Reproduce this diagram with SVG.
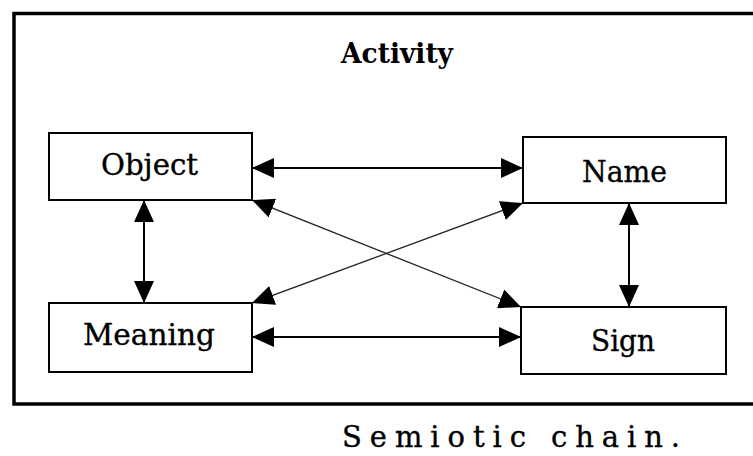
<svg xmlns="http://www.w3.org/2000/svg" width="753" height="456" viewBox="0 0 753 456">
  <style>
    .box { fill: #ffffff; stroke: #000000; stroke-width: 2; }
    .lbl { font-family: "DejaVu Serif", "Liberation Serif", serif; font-size: 29px; fill: #000000; stroke: #000000; stroke-width: 0.35; }
    .title { font-weight: bold; font-size: 27px; stroke-width: 0; }
    .link { fill: none; stroke: #000000; stroke-width: 2; marker-start: url(#tip); marker-end: url(#tip); }
    .cross { stroke-width: 1.3; stroke: #222222; }
  </style>
  <defs>
    <marker id="tip" markerUnits="userSpaceOnUse" viewBox="0 0 22 20" refX="22" refY="10" markerWidth="22" markerHeight="20" orient="auto-start-reverse">
      <path d="M0,0 L22,10 L0,20 Z" fill="#000000"/>
    </marker>
  </defs>

  <rect width="753" height="456" fill="#ffffff"/>

  <!-- outer frame, running past the right edge -->
  <rect x="14" y="13.5" width="760" height="390.5" fill="none" stroke="#000000" stroke-width="3.5"/>

  <text class="lbl title" x="341" y="63" textLength="112" lengthAdjust="spacingAndGlyphs">Activity</text>

  <g id="connectors">
    <line class="link" x1="252" y1="168" x2="523" y2="168"/>
    <line class="link" x1="252" y1="337" x2="521" y2="337"/>
    <line class="link" x1="144" y1="200" x2="144" y2="303"/>
    <line class="link" x1="629" y1="203" x2="629" y2="307"/>
    <line class="link cross" x1="252" y1="200" x2="521" y2="307"/>
    <line class="link cross" x1="523" y1="203" x2="252" y2="303"/>
  </g>

  <g id="object">
    <rect class="box" x="49" y="133" width="203" height="67"/>
    <text class="lbl" x="101" y="175" textLength="97" lengthAdjust="spacingAndGlyphs">Object</text>
  </g>

  <g id="name">
    <rect class="box" x="523" y="137" width="203" height="66"/>
    <text class="lbl" x="582" y="182" textLength="85" lengthAdjust="spacingAndGlyphs">Name</text>
  </g>

  <g id="meaning">
    <rect class="box" x="49" y="303" width="203" height="69"/>
    <text class="lbl" x="83" y="345" textLength="132" lengthAdjust="spacingAndGlyphs">Meaning</text>
  </g>

  <g id="sign">
    <rect class="box" x="521" y="307" width="205" height="67"/>
    <text class="lbl" x="591" y="351" textLength="64" lengthAdjust="spacingAndGlyphs">Sign</text>
  </g>

  <text class="lbl" x="342" y="447" font-size="33" stroke-width="0" textLength="338" lengthAdjust="spacing">Semiotic chain.</text>
</svg>
